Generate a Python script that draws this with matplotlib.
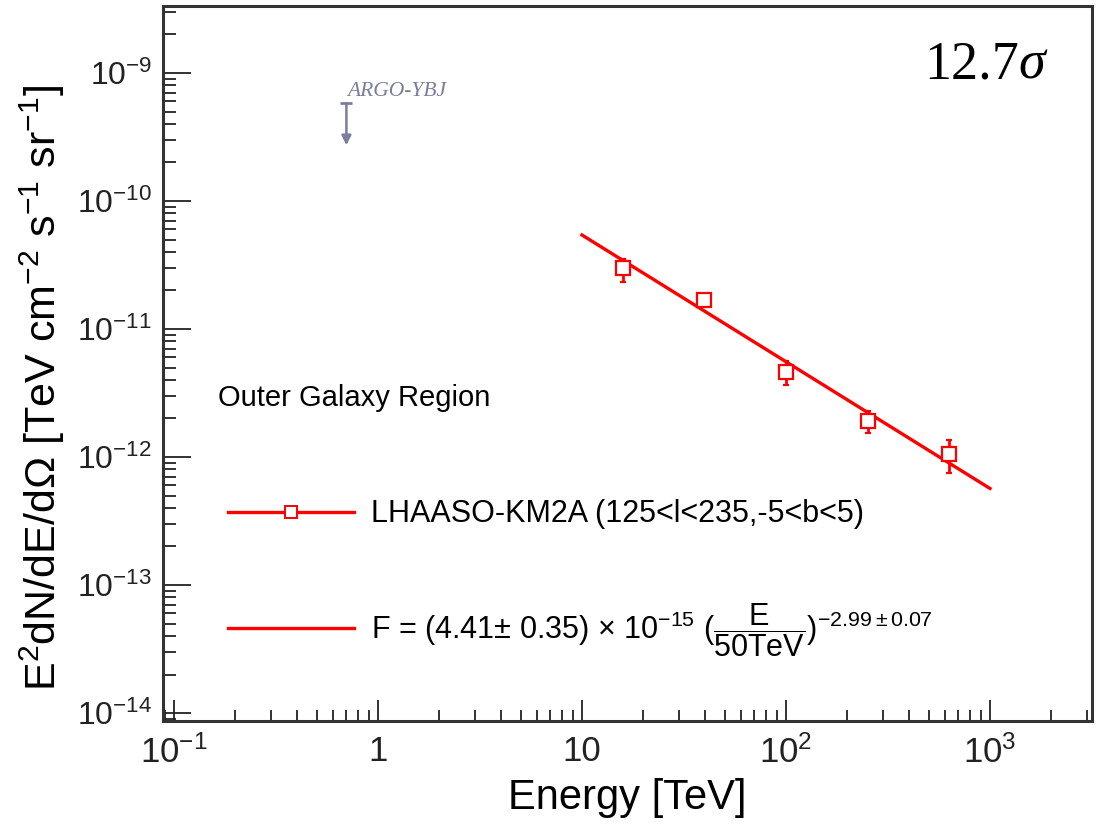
import numpy as np
import matplotlib
matplotlib.use("Agg")
from matplotlib import pyplot as plt
from matplotlib import ticker
from matplotlib import font_manager

# LHAASO-KM2A flux points, outer galaxy region
energy = [15.8, 39.8, 100.0, 251.0, 631.0]
flux = [3.0e-11, 1.7e-11, 4.6e-12, 1.9e-12, 1.05e-12]
flux_err_lo = [0.65e-11, 0.1e-11, 0.93e-12, 0.37e-12, 0.30e-12]
flux_err_hi = [0.53e-11, 0.1e-11, 1.0e-12, 0.37e-12, 0.32e-12]

# power-law fit: F = N0 * (E / E0)^-index, drawn as E^2 F
fit_norm = 4.41e-15
fit_e0 = 50.0
fit_index = 2.99
fit_range = [10.0, 1000.0]

# ARGO-YBJ upper limit
argo_energy = [0.7]
argo_ul = [5.8e-10]

x_ticks = [0.1, 1, 10, 100, 1000]
x_ticklabels = [r'10$^{-1}$', '1', '10', r'10$^{2}$', r'10$^{3}$']
y_ticks = [1e-14, 1e-13, 1e-12, 1e-11, 1e-10, 1e-9]

sans = ['Liberation Sans Narrow', 'Liberation Sans', 'DejaVu Sans']
narrow = 'Liberation Sans Narrow'
if not any(f.name == narrow for f in font_manager.fontManager.ttflist):
    narrow = 'Liberation Sans'
plt.rcParams['font.family'] = sans
plt.rcParams['mathtext.fontset'] = 'custom'
plt.rcParams['mathtext.rm'] = narrow
plt.rcParams['mathtext.it'] = narrow + ':italic'
plt.rcParams['mathtext.bf'] = narrow + ':bold'
plt.rcParams['mathtext.sf'] = narrow

red = '#ff0000'
argo_col = '#7b7d9e'

fig = plt.figure(figsize=(11.05, 8.25), dpi=100)
ax = fig.add_axes([0.1475, 0.126, 0.8407, 0.8667])
ax.set_xscale('log')
ax.set_yscale('log')
ax.set_xlim(0.0883, 3162)
ax.set_ylim(10 ** -14.0625, 10 ** -8.477)

# fit line
e_fit = np.logspace(np.log10(fit_range[0]), np.log10(fit_range[1]), 50)
f_fit = e_fit ** 2 * fit_norm * (e_fit / fit_e0) ** (-fit_index)
fit_line, = ax.plot(e_fit, f_fit, color=red, lw=2.4, zorder=2)

# data points
pts = ax.errorbar(energy, flux, yerr=[flux_err_lo, flux_err_hi], fmt='s',
                  mfc='white', mec=red, ms=10, mew=1.6, ecolor=red,
                  elinewidth=2, capsize=2.5, capthick=2, zorder=3)

# ARGO-YBJ upper limit arrow
for e, ul in zip(argo_energy, argo_ul):
    ax.plot([e], [ul], marker='_', ms=9, mew=2, color=argo_col)
    ax.annotate('', xy=(e, ul * 0.47), xytext=(e, ul),
                arrowprops=dict(arrowstyle='-|>', color=argo_col, lw=1.8,
                                mutation_scale=14, shrinkA=0, shrinkB=0))
    ax.text(e * 1.01, ul * 1.04, 'ARGO-YBJ', color=argo_col,
            family='Liberation Serif', style='italic', fontsize=15.5,
            ha='left', va='bottom')

# legend drawn as handles + labels
line_handle, = ax.plot([], [], color=red, lw=2.4)
pt_handle, = ax.plot([], [], color=red, lw=2.4, marker='s', mfc='white',
                     mec=red, ms=9, mew=1.4)
leg = ax.legend([pt_handle, line_handle],
                ['LHAASO-KM2A (125<l<235,-5<b<5)',
                 r'F = (4.41$\pm$ 0.35) $\times$ 10$^{-15}$ ($\dfrac{\mathrm{E}}{\mathrm{50TeV}}$)$^{-2.99\pm0.07}$'],
                loc='lower left', bbox_to_anchor=(0.053, 0.066), frameon=False,
                fontsize=22, handlelength=4.15, handletextpad=0.55,
                labelspacing=2.35, borderpad=0)

ax.text(0.059, 0.452, 'Outer Galaxy Region', transform=ax.transAxes,
        fontsize=21, ha='left', va='center')

ax.text(0.921, 0.898, '12.7', transform=ax.transAxes, family='Liberation Serif',
        fontsize=39, ha='right', va='baseline')
ax.text(0.921, 0.898, '\u03c3', transform=ax.transAxes, family='Liberation Serif',
        style='italic', fontsize=39, ha='left', va='baseline')

ax.xaxis.set_major_locator(ticker.FixedLocator(x_ticks))
ax.xaxis.set_major_formatter(ticker.FixedFormatter(x_ticklabels))
ax.xaxis.set_minor_locator(ticker.LogLocator(base=10, subs=np.arange(2, 10)))
ax.xaxis.set_minor_formatter(ticker.NullFormatter())
ax.yaxis.set_major_locator(ticker.FixedLocator(y_ticks))
ax.yaxis.set_major_formatter(ticker.FuncFormatter(
    lambda v, p: r'10$^{%d}$' % int(round(np.log10(v)))))
ax.yaxis.set_minor_locator(ticker.LogLocator(base=10, subs=np.arange(2, 10)))
ax.yaxis.set_minor_formatter(ticker.NullFormatter())

ax.tick_params(axis='both', which='both', direction='in', top=False, right=False,
               width=1.3, colors='#222222')
ax.tick_params(axis='x', which='major', length=15, labelsize=25, pad=10)
ax.tick_params(axis='x', which='minor', length=8)
ax.tick_params(axis='y', which='major', length=20, labelsize=23, pad=8)
ax.tick_params(axis='y', which='minor', length=9.5)
for s in ax.spines.values():
    s.set_linewidth(2.2)
    s.set_color('#333333')

ax.set_xlabel('Energy [TeV]', fontsize=30, labelpad=6)
ax.set_ylabel(r'E$^{2}$dN/dE/d$\Omega$ [TeV cm$^{-2}$ s$^{-1}$ sr$^{-1}$]',
              fontsize=31)
ax.yaxis.set_label_coords(-0.103, 0.466)

fig.savefig('out.png', dpi=100)
